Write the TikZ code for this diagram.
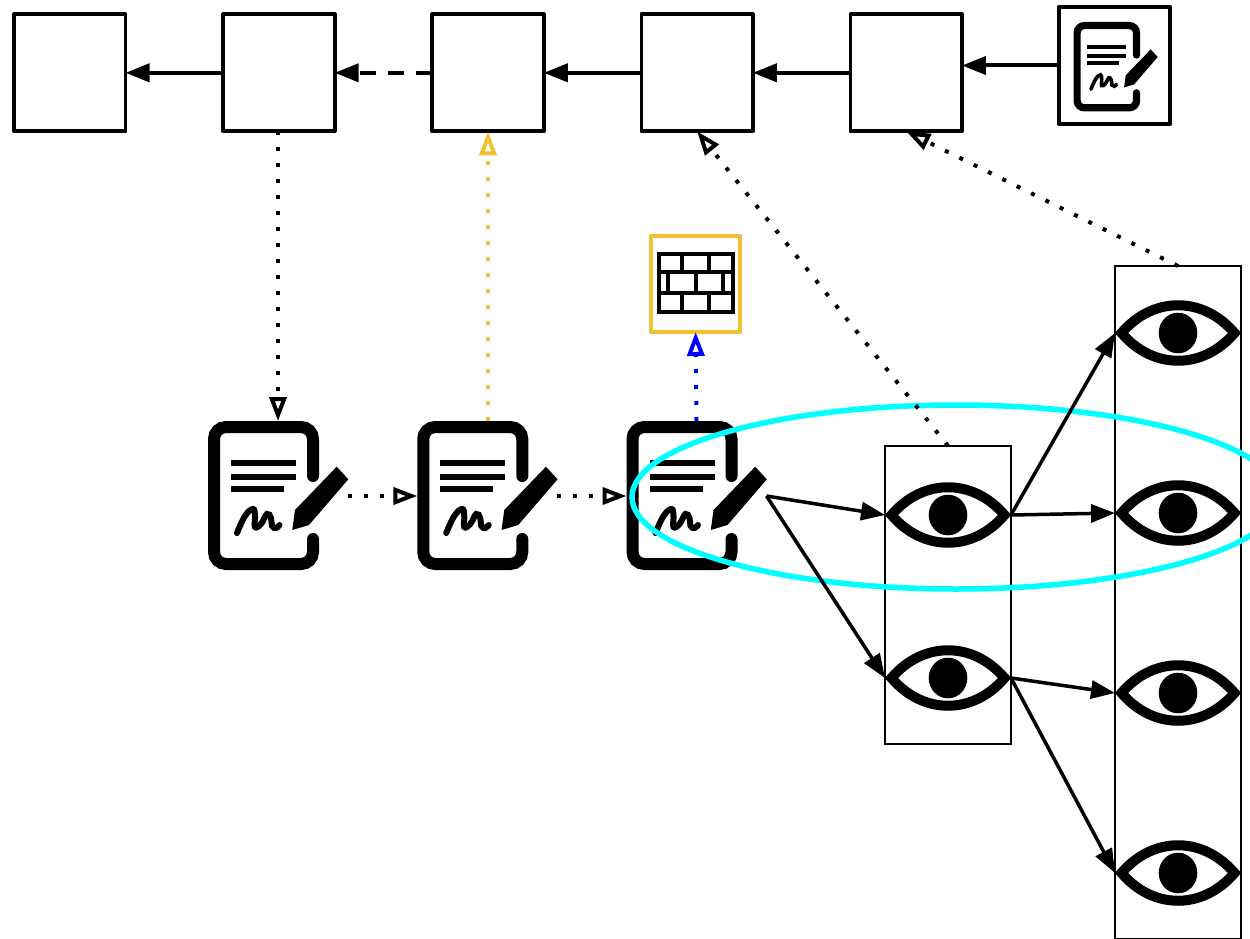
\documentclass[tikz,border=0pt]{standalone}
\usepackage{tikz}
\usetikzlibrary{arrows.meta}
\usetikzlibrary{shapes.geometric}
\usetikzlibrary{positioning}
\definecolor{wallyellow}{HTML}{F0C232}
\definecolor{groupcyan}{HTML}{00FFFF}
\definecolor{pureblue}{HTML}{0000FF}

\tikzset{
  pics/doc icon/.style={code={
    \begin{scope}[scale=#1]
      \draw[line width=12*#1,line cap=round,rounded corners=12*#1] (35,-20) -- (35,-69) -- (-64,-69) -- (-64,68) -- (35,68) -- (35,43);
      \draw[line width=6.5*#1] (-47,-33) -- (18,-33) (-47,-19) -- (18,-19) (-47,-7) -- (6,-7);
      \draw[line width=6*#1,line cap=round] plot[smooth,tension=0.7] coordinates {(-41,37) (-33,20) (-25,13) (-23,20) (-23,31) (-17,28) (-11,18) (-7,22) (-6,30) (-2,32) (1.5,29)};
      \fill (58.7,-29.3) -- (70.3,-16.7) -- (31,29) -- (14.3,34) -- (17,14) -- cycle;
    \end{scope}
  }},
  pics/eye icon/.style={code={
    \draw[line width=10,miter limit=10] (-56.5,0) .. controls (-25,-37) and (25,-37) .. (56.5,0) .. controls (25,37) and (-25,37) .. cycle;
    \fill (0,0) ellipse (19.3 and 20.3);
  }},
  pics/wall icon/.style={code={
    \draw[line width=4] (-36.5,-30.5) rectangle (37.5,27.5);
    \draw[line width=4] (-36.5,-12.5) -- (37.5,-12.5) (-36.5,8.5) -- (37.5,8.5);
    \draw[line width=3.5] (-13.5,-30.5) -- (-13.5,-12.5) (13.5,-30.5) -- (13.5,-12.5) (-13.5,8.5) -- (-13.5,27.5) (13.5,8.5) -- (13.5,27.5);
    \draw[line width=3.5] (-27.5,-12.5) -- (-27.5,8.5) (0.5,-12.5) -- (0.5,8.5) (27.5,-12.5) -- (27.5,8.5);
  }}
}

\begin{document}
\begin{tikzpicture}[x=1pt,y=-1pt,>={Triangle[length=24pt,width=18pt]},line width=4pt,
            open tip/.style={-{Triangle[open,length=24pt,width=17pt]}},
            dots/.style={dash pattern=on 4pt off 12pt},
            eye tip/.style={line width=3.5pt,->},
            box node/.style={rectangle,draw,line width=3.7pt,line join=round,minimum width=111.5pt,minimum height=117pt,inner sep=0pt,outer sep=0pt},
            doc node/.style={rectangle,minimum width=140pt,minimum height=150pt,inner sep=0pt,outer sep=0pt},
            eye node/.style={rectangle,minimum width=126pt,minimum height=65pt,inner sep=0pt,outer sep=0pt},
            col node/.style={rectangle,draw,line width=2pt,minimum width=126pt,inner sep=0pt,outer sep=0pt},
            wall node/.style={rectangle,draw=wallyellow,line width=4pt,line join=round,minimum width=88.7pt,minimum height=96pt,inner sep=0pt,outer sep=0pt}
            ]
            \clip (0,0) rectangle (1250,939);

            \node[box node](b1) at (69.8,72.8){};
            \node[box node](b2)[right=97.6pt of b1]{};
            \node[box node](b3)[right=97.6pt of b2]{};
            \node[box node](b4)[right=97.6pt of b3]{};
            \node[box node](b5)[right=97.6pt of b4]{};
            \node[box node](sig) at (1114.5,65.5){};
            \pic at (1115.5,67) {doc icon=0.6};

            \node[doc node](d1) at (278,496){};
            \node[doc node](d2)[right=69.25pt of d1]{};
            \node[doc node](d3)[right=69.25pt of d2]{};
            \foreach \n in {d1,d2,d3}
              \pic at (\n) {doc icon=1};

            \node[wall node](wall) at (695.6,284){};
            \pic at (wall) {wall icon};

            \node[col node,minimum height=298pt](c1) at (948,595){};
            \node[col node,minimum height=673pt](c2) at (1178,602.5){};
            \foreach \n/\p in {e1/{948,515},e2/{948,678},f1/{1178,333},f2/{1178,513},f3/{1178,693},f4/{1178,873}}{
              \node[eye node](\n) at (\p){};
              \pic at (\n) {eye icon};
            }

            \node[ellipse,draw=groupcyan,line width=5.5pt,minimum width=648pt,minimum height=184pt,inner sep=0pt](group) at (956,497){};

            \draw[->] (b2) -- (b1);
            \draw[->,dash pattern=on 16pt off 12pt] (b3) -- (b2);
            \draw[->] (b4) -- (b3);
            \draw[->] (b5) -- (b4);
            \draw[->] (sig.west) -- (sig.west -| b5.east);

            \draw[open tip,dots] (b2.south -| d1.north) -- (d1.north);
            \draw[open tip,dots,wallyellow] (b3.south |- d2.north) -- (b3.south);
            \draw[open tip,dots,pureblue] (d3.north) -- (wall.south);
            \draw[open tip,dots] (d1.east) -- (d2.west);
            \draw[open tip,dots] (d2.east) -- (d3.west);
            \draw[open tip,dots] (c1.north) -- (b4.south);
            \draw[open tip,dots] (c2.north) -- (b5.south);

            \draw[eye tip] (d3.east) -- (e1.west);
            \draw[eye tip] (d3.east) -- (e2.west);
            \draw[eye tip] (e1.east) -- (f1.west);
            \draw[eye tip] (e1.east) -- (f2.west);
            \draw[eye tip] (e2.east) -- (f3.west);
            \draw[eye tip] (e2.east) -- (f4.west);

\end{tikzpicture}
\end{document}
